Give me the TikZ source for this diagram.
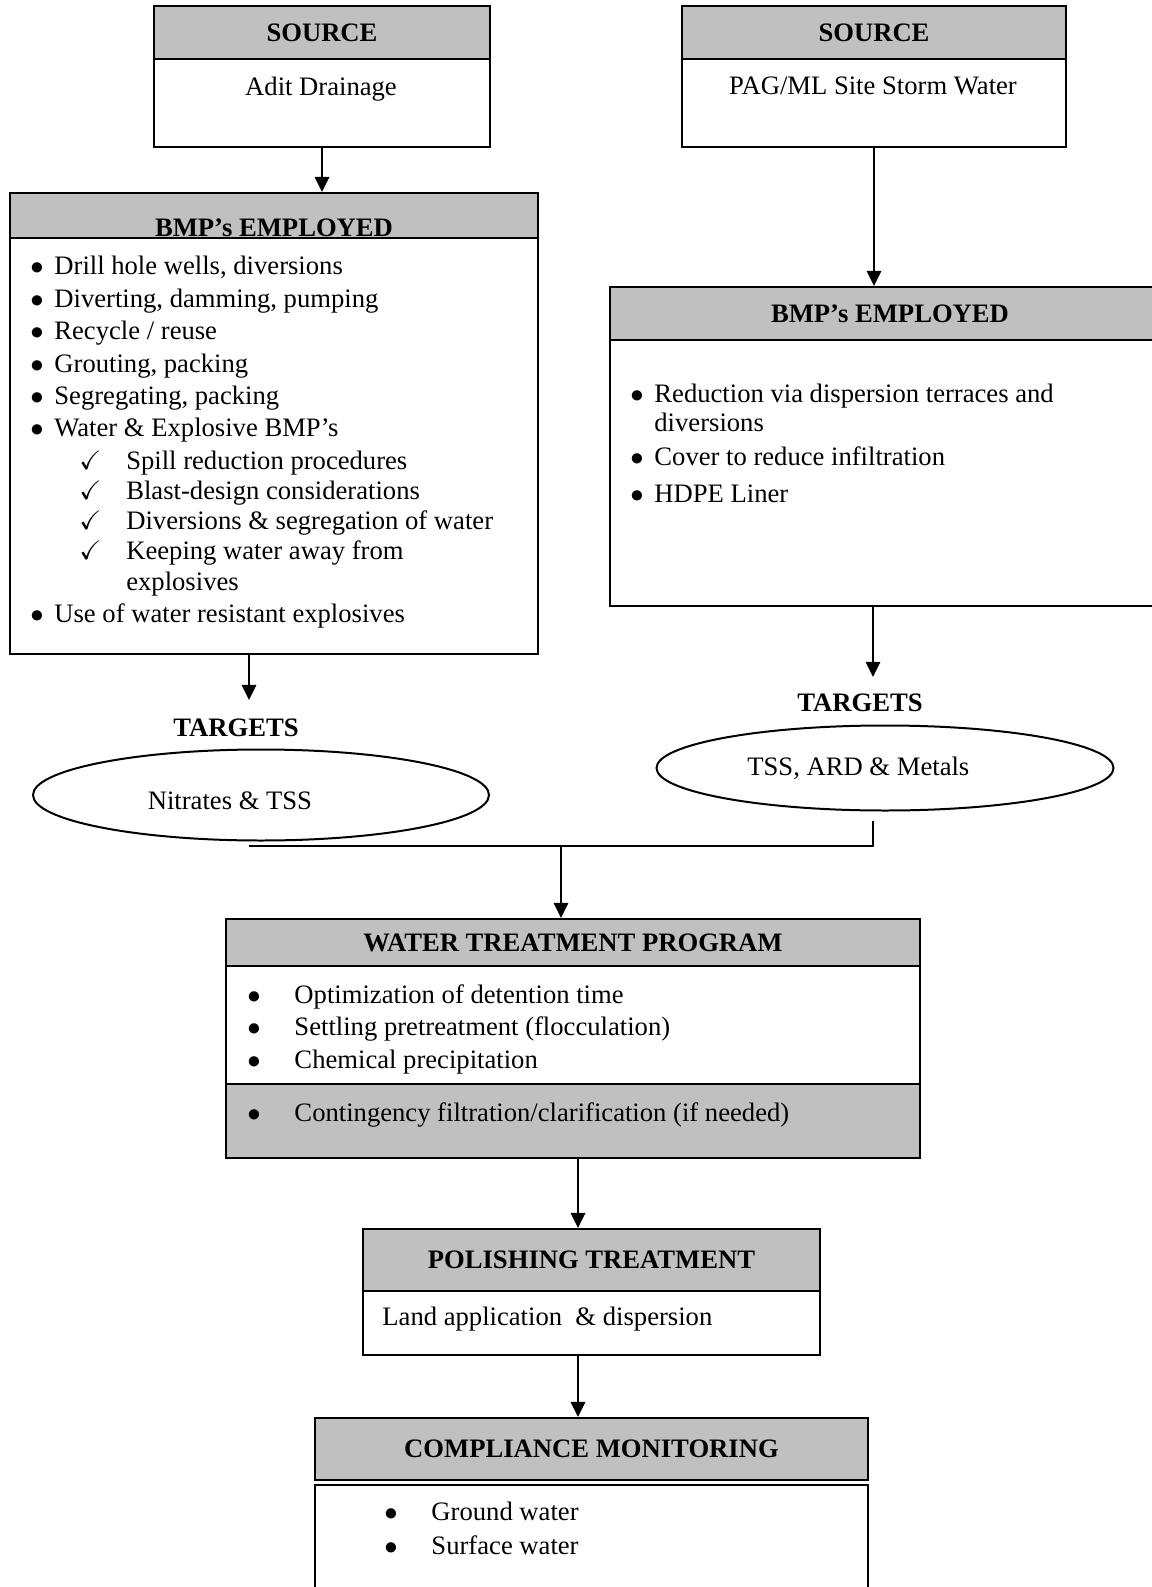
\documentclass[tikz,border=0pt]{standalone}
\usepackage{fontspec}
\setmainfont{Liberation Serif}
\usepackage{amssymb}
\usetikzlibrary{arrows.meta,shapes.geometric}
\definecolor{cabecera}{RGB}{192,192,192}
\newcommand{\pxu}{0.4506pt}
\newcommand{\bul}{\makebox[10.8pt][l]{$\bullet$}}
\newcommand{\bulw}{\makebox[21.2pt][l]{$\bullet$}}
\newcommand{\chk}{\hspace*{22pt}\makebox[21.2pt][l]{$\checkmark$}}
\begin{document}
\begin{tikzpicture}[x=0.4506pt, y=-0.4506pt,
    font=\fontsize{12}{14.6}\selectfont,
    cab/.style={draw, line width=0.9pt, fill=cabecera, font=\fontsize{12}{14.6}\selectfont\bfseries, anchor=north west, inner sep=0pt},
    cuerpo/.style={draw, line width=0.9pt, fill=white, anchor=north west, inner sep=0pt},
    lista/.style={align=left, anchor=north west, inner sep=0pt},
    meta/.style={draw, ellipse, line width=0.9pt, inner sep=0pt},
    flecha/.style={-{Triangle[length=6.8pt,width=6.5pt]}, line width=0.7pt}]
    % Coordenadas en pixeles de la figura, con y hacia abajo.
    \useasboundingbox (0,0) rectangle (1151,1587);
    \node[cab, minimum width=336*\pxu, minimum height=53*\pxu] (srcLh) at (153,5) {SOURCE};
    \node[cuerpo, minimum width=336*\pxu, minimum height=88*\pxu] (srcLb) at (153,58) {};
    \node (srcLt) at (321,89) {Adit Drainage};
    \node[cab, minimum width=384*\pxu, minimum height=53*\pxu] (srcRh) at (681,5) {SOURCE};
    \node[cuerpo, minimum width=384*\pxu, minimum height=88*\pxu] (srcRb) at (681,58) {};
    \node (srcRt) at (873,86) {PAG/ML Site Storm Water};
    \node[cab, minimum width=528*\pxu, minimum height=45*\pxu, text height=18.5pt, text depth=0pt] (bmpLh) at (9,192) {BMP’s EMPLOYED};
    \node[cuerpo, minimum width=528*\pxu, minimum height=416*\pxu] (bmpLb) at (9,237) {};
    \node[lista] (bmpLt) at (30,256) {\bul Drill hole wells, diversions\\
        \bul Diverting, damming, pumping\\
        \bul Recycle / reuse\\
        \bul Grouting, packing\\
        \bul Segregating, packing\\
        \bul Water \& Explosive BMP’s\\
        \chk Spill reduction procedures\\[-1pt]
        \chk Blast-design considerations\\[-1pt]
        \chk Diversions \& segregation of water\\[-1pt]
        \chk Keeping water away from\\[-1pt]
        \hspace*{43.2pt}explosives\\
        \bul Use of water resistant explosives};
    \node[cab, minimum width=560*\pxu, minimum height=53*\pxu] (bmpRh) at (609,286) {BMP’s EMPLOYED};
    \node[cuerpo, minimum width=560*\pxu, minimum height=266*\pxu] (bmpRb) at (609,339) {};
    \node[lista] (bmpRt) at (630,384) {\bul Reduction via dispersion terraces and\\[-1.5pt]
        \hspace*{10.8pt}diversions\\[0.7pt]
        \bul Cover to reduce infiltration\\[2pt]
        \bul HDPE Liner};
    \node[font=\fontsize{12}{14.6}\selectfont\bfseries] (tgtLl) at (236,728) {TARGETS};
    \node[meta, minimum width=456*\pxu, minimum height=91*\pxu, text height=12.7pt, text depth=0pt] (tgtLe) at (261,795) {Nitrates \& TSS\hspace*{28pt}};
    \node[font=\fontsize{12}{14.6}\selectfont\bfseries] (tgtRl) at (860,703) {TARGETS};
    \node[meta, minimum width=457*\pxu, minimum height=85*\pxu] (tgtRe) at (885,768) {TSS, ARD \& Metals\hspace*{24pt}};
    \node[cab, minimum width=694*\pxu, minimum height=47*\pxu] (wtph) at (225,918) {WATER TREATMENT PROGRAM};
    \node[cuerpo, minimum width=694*\pxu, minimum height=118*\pxu] (wtpb) at (225,965) {};
    \node[cuerpo, fill=cabecera, minimum width=694*\pxu, minimum height=74*\pxu] (wtpc) at (225,1083) {};
    \node[lista] (wtpt) at (247,984) {\bulw Optimization of detention time\\
        \bulw Settling pretreatment (flocculation)\\
        \bulw Chemical precipitation};
    \node[lista] (wtpct) at (247,1102) {\bulw Contingency filtration/clarification (if needed)};
    \node[cab, minimum width=457*\pxu, minimum height=62*\pxu] (polh) at (362,1228) {POLISHING TREATMENT};
    \node[cuerpo, minimum width=457*\pxu, minimum height=64*\pxu] (polb) at (362,1290) {};
    \node[lista] (polt) at (382,1307) {Land application\ \ \& dispersion};
    \node[cab, minimum width=553*\pxu, minimum height=62*\pxu] (comh) at (314,1417) {COMPLIANCE MONITORING};
    \node[cuerpo, minimum width=553*\pxu, minimum height=140*\pxu] (comb) at (314,1484) {};
    \node[lista] (comt) at (384,1502) {\bulw Ground water\\[0.7pt]
        \bulw Surface water};
    \coordinate (tL) at (249,700);
    \coordinate (tR) at (873,677);
    \coordinate (uR) at (873,821);
    \coordinate (uL) at (249,846);
    \coordinate (uM) at (561,846);
    \coordinate (ax) at (578,0);
    \draw[flecha] (srcLb.south) -- (srcLb.south |- bmpLh.north);
    \draw[flecha] (srcRb.south) -- (srcRb.south |- bmpRh.north);
    \draw[flecha] (tL |- bmpLb.south) -- (tL);
    \draw[flecha] (tR |- bmpRb.south) -- (tR);
    \draw[line width=0.7pt] (uR) |- (uL);
    \draw[flecha] (uM) -- (uM |- wtph.north);
    \draw[flecha] (ax |- wtpc.south) -- (ax |- polh.north);
    \draw[flecha] (ax |- polb.south) -- (ax |- comh.north);
\end{tikzpicture}
\end{document}
